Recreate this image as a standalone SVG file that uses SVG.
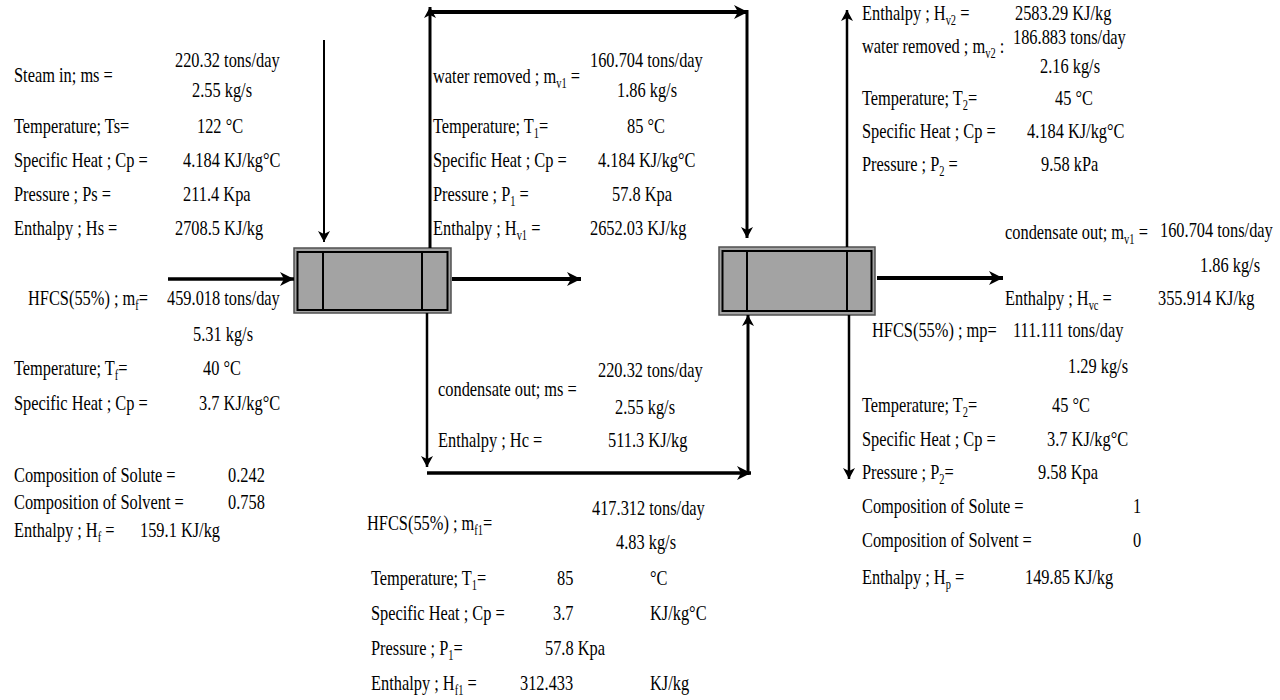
<svg xmlns="http://www.w3.org/2000/svg" width="1280" height="700" viewBox="0 0 1280 700">
<style>
text { font-family: "Liberation Serif", "Times New Roman", serif; font-size: 22px; fill: #000; }
.s { font-size: 14px; }
.ln { stroke: #000; fill: none; }
.outer { fill: #a3a3a3; stroke: #505050; stroke-width: 1.5; }
.inner { fill: none; stroke: #000; stroke-width: 2; }
</style>
<defs>
<marker id="ah" markerUnits="userSpaceOnUse" markerWidth="16" markerHeight="14" refX="14" refY="7" orient="auto">
<path d="M0,0 L14,7 L0,14 L4,7 Z" fill="#000"/>
</marker>
<marker id="ahs" markerUnits="userSpaceOnUse" markerWidth="12" markerHeight="12" refX="11" refY="6" orient="auto">
<path d="M0,0 L11,6 L0,12 L3,6 Z" fill="#000"/>
</marker>
</defs>
<rect width="1280" height="700" fill="#fff"/>

<g id="evaporator-1">
<rect class="outer" x="294" y="248" width="157" height="65"/>
<rect class="inner" x="297.5" y="252" width="150" height="58"/>
<line class="inner" x1="323" y1="252" x2="323" y2="310"/>
<line class="inner" x1="422" y1="252" x2="422" y2="310"/>
</g>

<g id="evaporator-2">
<rect class="outer" x="719" y="247" width="156" height="68"/>
<rect class="inner" x="722.5" y="251" width="149" height="60"/>
<line class="inner" x1="747" y1="251" x2="747" y2="311"/>
<line class="inner" x1="847" y1="251" x2="847" y2="311"/>
</g>

<g id="connectors">
<line class="ln" x1="324" y1="40" x2="324" y2="242" stroke-width="2" marker-end="url(#ahs)"/>
<line class="ln" x1="168" y1="279" x2="294" y2="279" stroke-width="3.5" marker-end="url(#ah)"/>
<line class="ln" x1="430" y1="248" x2="430" y2="7" stroke-width="3" marker-end="url(#ahs)"/>
<line class="ln" x1="430" y1="12" x2="748" y2="12" stroke-width="4" marker-end="url(#ah)"/>
<line class="ln" x1="747" y1="10" x2="747" y2="238" stroke-width="3" marker-end="url(#ahs)"/>
<line class="ln" x1="452" y1="279" x2="581" y2="279" stroke-width="4" marker-end="url(#ah)"/>
<line class="ln" x1="427" y1="313" x2="427" y2="467" stroke-width="2.5" marker-end="url(#ahs)"/>
<line class="ln" x1="427" y1="473" x2="751" y2="473" stroke-width="3.5" marker-end="url(#ah)"/>
<line class="ln" x1="748" y1="475" x2="748" y2="315" stroke-width="3" marker-end="url(#ahs)"/>
<line class="ln" x1="877" y1="278" x2="1003" y2="278" stroke-width="4" marker-end="url(#ah)"/>
<line class="ln" x1="847" y1="247" x2="847" y2="10" stroke-width="2.5" marker-end="url(#ahs)"/>
<line class="ln" x1="849" y1="315" x2="849" y2="479" stroke-width="2.5" marker-end="url(#ahs)"/>
</g>

<g id="steam-in-data">
<text transform="translate(14,82) scale(.745,1)">Steam in; ms =</text>
<text transform="translate(175,67) scale(.745,1)">220.32 tons/day</text>
<text transform="translate(192,97) scale(.745,1)">2.55 kg/s</text>
<text transform="translate(14,133) scale(.745,1)">Temperature; Ts=</text>
<text transform="translate(197,133) scale(.745,1)">122 °C</text>
<text transform="translate(14,167) scale(.745,1)">Specific Heat ; Cp =</text>
<text transform="translate(183,167) scale(.745,1)">4.184 KJ/kg°C</text>
<text transform="translate(14,201) scale(.745,1)">Pressure ; Ps =</text>
<text transform="translate(183,201) scale(.745,1)">211.4 Kpa</text>
<text transform="translate(14,235) scale(.745,1)">Enthalpy ; Hs =</text>
<text transform="translate(175,235) scale(.745,1)">2708.5 KJ/kg</text>
</g>

<g id="feed-data">
<text transform="translate(28,305) scale(.745,1)">HFCS(55%) ; m<tspan class="s" dy="5">f</tspan><tspan dy="-5">=</tspan></text>
<text transform="translate(167,305) scale(.745,1)">459.018 tons/day</text>
<text transform="translate(193,341) scale(.745,1)">5.31 kg/s</text>
<text transform="translate(14,375) scale(.745,1)">Temperature; T<tspan class="s" dy="5">f</tspan><tspan dy="-5">=</tspan></text>
<text transform="translate(203,375) scale(.745,1)">40 °C</text>
<text transform="translate(14,410) scale(.745,1)">Specific Heat ; Cp =</text>
<text transform="translate(199,410) scale(.745,1)">3.7 KJ/kg°C</text>
<text transform="translate(14,482) scale(.745,1)">Composition of Solute =</text>
<text transform="translate(228,482) scale(.745,1)">0.242</text>
<text transform="translate(14,509) scale(.745,1)">Composition of Solvent =</text>
<text transform="translate(228,509) scale(.745,1)">0.758</text>
<text transform="translate(14,537) scale(.745,1)">Enthalpy ; H<tspan class="s" dy="5">f</tspan><tspan dy="-5"> =</tspan></text>
<text transform="translate(140,537) scale(.745,1)">159.1 KJ/kg</text>
</g>

<g id="vapor-1-data">
<text transform="translate(433,83) scale(.745,1)">water removed ; m<tspan class="s" dy="5">v1</tspan><tspan dy="-5"> =</tspan></text>
<text transform="translate(590,67) scale(.745,1)">160.704 tons/day</text>
<text transform="translate(617,97) scale(.745,1)">1.86 kg/s</text>
<text transform="translate(433,133) scale(.745,1)">Temperature; T<tspan class="s" dy="5">1</tspan><tspan dy="-5">=</tspan></text>
<text transform="translate(627,133) scale(.745,1)">85 °C</text>
<text transform="translate(433,167) scale(.745,1)">Specific Heat ; Cp =</text>
<text transform="translate(598,167) scale(.745,1)">4.184 KJ/kg°C</text>
<text transform="translate(433,201) scale(.745,1)">Pressure ; P<tspan class="s" dy="5">1</tspan><tspan dy="-5"> =</tspan></text>
<text transform="translate(612,201) scale(.745,1)">57.8 Kpa</text>
<text transform="translate(433,235) scale(.745,1)">Enthalpy ; H<tspan class="s" dy="5">v1</tspan><tspan dy="-5"> =</tspan></text>
<text transform="translate(590,235) scale(.745,1)">2652.03 KJ/kg</text>
</g>

<g id="condensate-1-data">
<text transform="translate(438,396) scale(.745,1)">condensate out; ms =</text>
<text transform="translate(598,377) scale(.745,1)">220.32 tons/day</text>
<text transform="translate(615,414) scale(.745,1)">2.55 kg/s</text>
<text transform="translate(438,447) scale(.745,1)">Enthalpy ; Hc =</text>
<text transform="translate(608,447) scale(.745,1)">511.3 KJ/kg</text>
</g>

<g id="liquor-1-data">
<text transform="translate(592,515) scale(.745,1)">417.312 tons/day</text>
<text transform="translate(367,530) scale(.745,1)">HFCS(55%) ; m<tspan class="s" dy="5">f1</tspan><tspan dy="-5">=</tspan></text>
<text transform="translate(616,549) scale(.745,1)">4.83 kg/s</text>
<text transform="translate(371,585) scale(.745,1)">Temperature; T<tspan class="s" dy="5">1</tspan><tspan dy="-5">=</tspan></text>
<text transform="translate(557,585) scale(.745,1)">85</text>
<text transform="translate(650,585) scale(.745,1)">°C</text>
<text transform="translate(371,620) scale(.745,1)">Specific Heat ; Cp =</text>
<text transform="translate(553,620) scale(.745,1)">3.7</text>
<text transform="translate(650,620) scale(.745,1)">KJ/kg°C</text>
<text transform="translate(371,655) scale(.745,1)">Pressure ; P<tspan class="s" dy="5">1</tspan><tspan dy="-5">=</tspan></text>
<text transform="translate(545,655) scale(.745,1)">57.8 Kpa</text>
<text transform="translate(371,690) scale(.745,1)">Enthalpy ; H<tspan class="s" dy="5">f1</tspan><tspan dy="-5"> =</tspan></text>
<text transform="translate(520,690) scale(.745,1)">312.433</text>
<text transform="translate(650,690) scale(.745,1)">KJ/kg</text>
</g>

<g id="vapor-2-data">
<text transform="translate(862,20) scale(.745,1)">Enthalpy ; H<tspan class="s" dy="5">v2</tspan><tspan dy="-5"> =</tspan></text>
<text transform="translate(1015,20) scale(.745,1)">2583.29 KJ/kg</text>
<text transform="translate(1013,44) scale(.745,1)">186.883 tons/day</text>
<text transform="translate(862,53) scale(.745,1)">water removed ; m<tspan class="s" dy="5">v2</tspan><tspan dy="-5"> :</tspan></text>
<text transform="translate(1040,73) scale(.745,1)">2.16 kg/s</text>
<text transform="translate(862,105) scale(.745,1)">Temperature; T<tspan class="s" dy="5">2</tspan><tspan dy="-5">=</tspan></text>
<text transform="translate(1055,105) scale(.745,1)">45 °C</text>
<text transform="translate(862,138) scale(.745,1)">Specific Heat ; Cp =</text>
<text transform="translate(1027,138) scale(.745,1)">4.184 KJ/kg°C</text>
<text transform="translate(862,171) scale(.745,1)">Pressure ; P<tspan class="s" dy="5">2</tspan><tspan dy="-5"> =</tspan></text>
<text transform="translate(1041,171) scale(.745,1)">9.58 kPa</text>
</g>

<g id="condensate-2-data">
<text transform="translate(1005,239) scale(.745,1)">condensate out; m<tspan class="s" dy="5">v1</tspan><tspan dy="-5"> =</tspan></text>
<text transform="translate(1160,237) scale(.745,1)">160.704  tons/day</text>
<text transform="translate(1200,272) scale(.745,1)">1.86 kg/s</text>
<text transform="translate(1005,305) scale(.745,1)">Enthalpy ; H<tspan class="s" dy="5">vc</tspan><tspan dy="-5"> =</tspan></text>
<text transform="translate(1158,305) scale(.745,1)">355.914 KJ/kg</text>
</g>

<g id="product-data">
<text transform="translate(872,337) scale(.745,1)">HFCS(55%) ; mp=</text>
<text transform="translate(1013,337) scale(.745,1)">111.111 tons/day</text>
<text transform="translate(1068,373) scale(.745,1)">1.29 kg/s</text>
<text transform="translate(862,412) scale(.745,1)">Temperature; T<tspan class="s" dy="5">2</tspan><tspan dy="-5">=</tspan></text>
<text transform="translate(1052,412) scale(.745,1)">45 °C</text>
<text transform="translate(862,446) scale(.745,1)">Specific Heat ; Cp =</text>
<text transform="translate(1047,446) scale(.745,1)">3.7 KJ/kg°C</text>
<text transform="translate(862,479) scale(.745,1)">Pressure ; P<tspan class="s" dy="5">2</tspan><tspan dy="-5">=</tspan></text>
<text transform="translate(1038,479) scale(.745,1)">9.58 Kpa</text>
<text transform="translate(862,513) scale(.745,1)">Composition of Solute =</text>
<text transform="translate(1133,513) scale(.745,1)">1</text>
<text transform="translate(862,547) scale(.745,1)">Composition of Solvent =</text>
<text transform="translate(1133,547) scale(.745,1)">0</text>
<text transform="translate(862,584) scale(.745,1)">Enthalpy ; H<tspan class="s" dy="5">p</tspan><tspan dy="-5"> =</tspan></text>
<text transform="translate(1025,584) scale(.745,1)">149.85 KJ/kg</text>
</g>
</svg>
